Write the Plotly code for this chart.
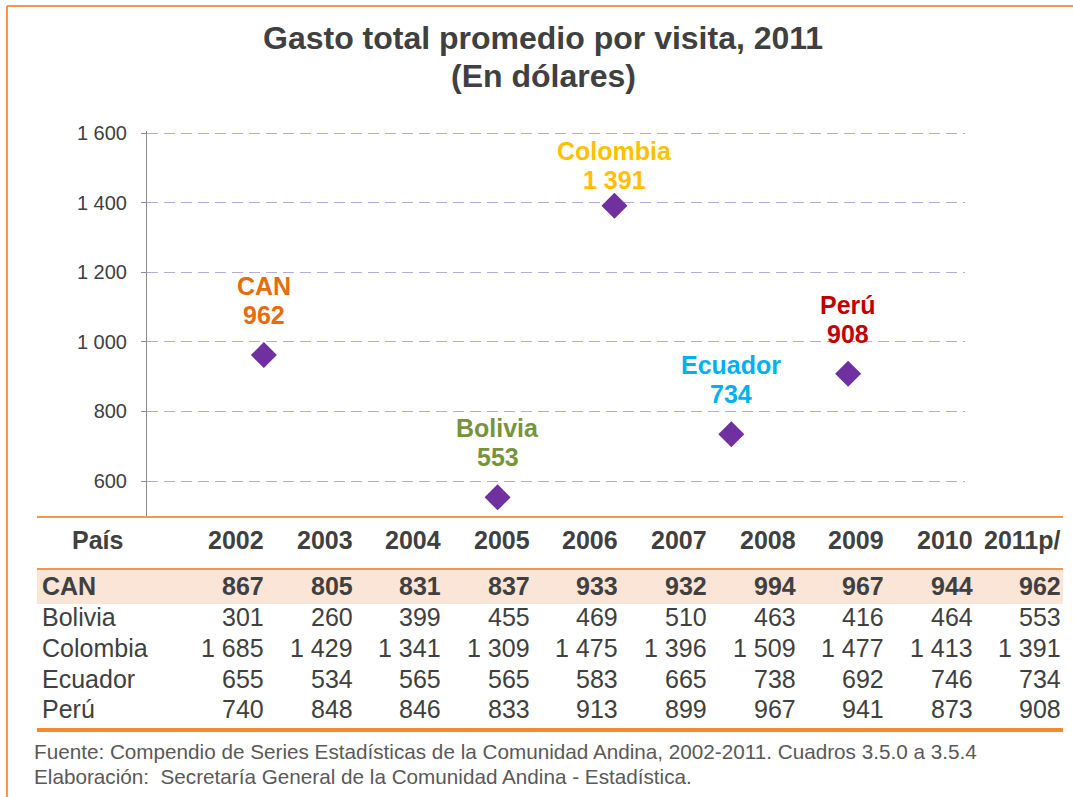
import plotly.graph_objects as go

# ---------------- data ----------------
years = ["2002", "2003", "2004", "2005", "2006", "2007", "2008", "2009", "2010", "2011p/"]
countries = ["CAN", "Bolivia", "Colombia", "Ecuador", "Perú"]
can = [867, 805, 831, 837, 933, 932, 994, 967, 944, 962]
bolivia = [301, 260, 399, 455, 469, 510, 463, 416, 464, 553]
colombia = [1685, 1429, 1341, 1309, 1475, 1396, 1509, 1477, 1413, 1391]
ecuador = [655, 534, 565, 565, 583, 665, 738, 692, 746, 734]
peru = [740, 848, 846, 833, 913, 899, 967, 941, 873, 908]
label_colors = ["#e46c0a", "#77933c", "#ffc000", "#00b0f0", "#c00000"]
y_ticks = [600, 800, 1000, 1200, 1400, 1600]

rows = [can, bolivia, colombia, ecuador, peru]
latest = [r[-1] for r in rows]  # 2011p/ values plotted

W, H = 1073, 797
FONT = "Liberation Sans, Arial, sans-serif"
TXT = "#404040"
ORANGE = "#f79646"


def px(x):
    return x / W


def py(y):
    return 1 - y / H


def fmt(v):
    return f"{v:,}".replace(",", " ")


# slot positions on the chart (0 = axis, 7 = right edge) and label offsets (px)
x_slots = [1, 3, 4, 5, 6]
label_offsets = [40, 40, 26, 40, 40]

fig = go.Figure()
fig.add_trace(go.Scatter(
    x=x_slots, y=latest, mode="markers",
    marker=dict(symbol="diamond", size=20, color="#7030a0"),
    hoverinfo="skip", showlegend=False,
))

annotations = []
# point labels (name above value)
for xs, name, val, col, off in zip(x_slots, countries, latest, label_colors, label_offsets):
    annotations.append(dict(
        x=xs, y=val, xref="x", yref="y", text=f"<b>{fmt(val)}</b>",
        showarrow=False, xanchor="center", yanchor="middle", yshift=off,
        font=dict(family=FONT, size=25, color=col),
    ))
    annotations.append(dict(
        x=xs, y=val, xref="x", yref="y", text=f"<b>{name}</b>",
        showarrow=False, xanchor="center", yanchor="middle", yshift=off + 29,
        font=dict(family=FONT, size=25, color=col),
    ))

# title
annotations.append(dict(x=px(543), y=py(38), xref="paper", yref="paper",
                        text="<b>Gasto total promedio por visita, 2011</b>", showarrow=False,
                        xanchor="center", yanchor="middle",
                        font=dict(family=FONT, size=32, color=TXT)))
annotations.append(dict(x=px(543), y=py(76), xref="paper", yref="paper",
                        text="<b>(En dólares)</b>", showarrow=False,
                        xanchor="center", yanchor="middle",
                        font=dict(family=FONT, size=32, color=TXT)))

# table
col_right = [265 + i * 88.6 for i in range(len(years))]
header_y = 540
row_y = [586, 617, 648, 679, 709]
TF = 25
annotations.append(dict(x=px(98), y=py(header_y), xref="paper", yref="paper",
                        text="<b>País</b>", showarrow=False, xanchor="center", yanchor="middle",
                        borderpad=0, font=dict(family=FONT, size=TF, color=TXT)))
for xr, yr in zip(col_right, years):
    annotations.append(dict(x=px(xr), y=py(header_y), xref="paper", yref="paper",
                            text=f"<b>{yr}</b>", showarrow=False, xanchor="right", yanchor="middle",
                            borderpad=0, font=dict(family=FONT, size=TF, color=TXT)))
for i, (name, vals) in enumerate(zip(countries, rows)):
    bold = i == 0
    wrap = (lambda s: f"<b>{s}</b>") if bold else (lambda s: s)
    annotations.append(dict(x=px(41), y=py(row_y[i]), xref="paper", yref="paper",
                            text=wrap(name), showarrow=False, xanchor="left", yanchor="middle",
                            borderpad=0, font=dict(family=FONT, size=TF, color=TXT)))
    for xr, v in zip(col_right, vals):
        annotations.append(dict(x=px(xr), y=py(row_y[i]), xref="paper", yref="paper",
                                text=wrap(fmt(v)), showarrow=False, xanchor="right", yanchor="middle",
                                borderpad=0, font=dict(family=FONT, size=TF, color=TXT)))

# footer
annotations.append(dict(x=px(33), y=py(751), xref="paper", yref="paper",
                        text="Fuente: Compendio de Series Estadísticas de la Comunidad Andina, 2002-2011. Cuadros 3.5.0 a 3.5.4",
                        showarrow=False, xanchor="left", yanchor="middle", borderpad=0,
                        font=dict(family=FONT, size=20.7, color="#595959")))
annotations.append(dict(x=px(33), y=py(776), xref="paper", yref="paper",
                        text="Elaboración:  Secretaría General de la Comunidad Andina - Estadística.",
                        showarrow=False, xanchor="left", yanchor="middle", borderpad=0,
                        font=dict(family=FONT, size=20.7, color="#595959")))

shapes = [
    # outer frame (top + left)
    dict(type="line", xref="paper", yref="paper", x0=px(7), x1=1, y0=py(6), y1=py(6),
         line=dict(color=ORANGE, width=2)),
    dict(type="line", xref="paper", yref="paper", x0=px(7), x1=px(7), y0=py(6), y1=0,
         line=dict(color=ORANGE, width=2)),
    # CAN highlight row
    dict(type="rect", xref="paper", yref="paper", x0=px(37), x1=px(1063), y0=py(604), y1=py(570),
         fillcolor="#fbe5d6", line=dict(width=0), layer="below"),
    # table rules
    dict(type="line", xref="paper", yref="paper", x0=px(37), x1=px(1063), y0=py(517), y1=py(517),
         line=dict(color=ORANGE, width=2)),
    dict(type="line", xref="paper", yref="paper", x0=px(37), x1=px(1063), y0=py(569), y1=py(569),
         line=dict(color=ORANGE, width=2)),
    dict(type="line", xref="paper", yref="paper", x0=px(37), x1=px(1063), y0=py(730), y1=py(730),
         line=dict(color="#f58a2a", width=4)),
]

y_top = 1605
y_top_px = 133 - (y_top - 1600) * (481 - 133) / 1000

fig.update_layout(
    width=W, height=H, margin=dict(l=0, r=0, t=0, b=0, pad=0, autoexpand=False),
    paper_bgcolor="white", plot_bgcolor="white",
    separators=". ",
    xaxis=dict(domain=[px(147), px(965)], range=[0, 7], showgrid=False, zeroline=False,
               showticklabels=False, showline=False, ticks="", automargin=False),
    yaxis=dict(domain=[py(515.8), py(y_top_px)], range=[500, y_top], tickvals=y_ticks,
               tickformat=",d", showgrid=True, gridcolor="#b9a9d8", griddash="11px,6px", gridwidth=1,
               zeroline=False, showline=True, linecolor="#8c8c8c", linewidth=1,
               ticks="outside", ticklen=5, tickcolor="#8c8c8c", ticklabelstandoff=10,
               automargin=False,
               tickfont=dict(family=FONT, size=20, color=TXT)),
    annotations=annotations, shapes=shapes,
)

fig.write_html(
    "out.html",
    config={"displayModeBar": False},
    post_script="document.body.style.margin='0';",
)
